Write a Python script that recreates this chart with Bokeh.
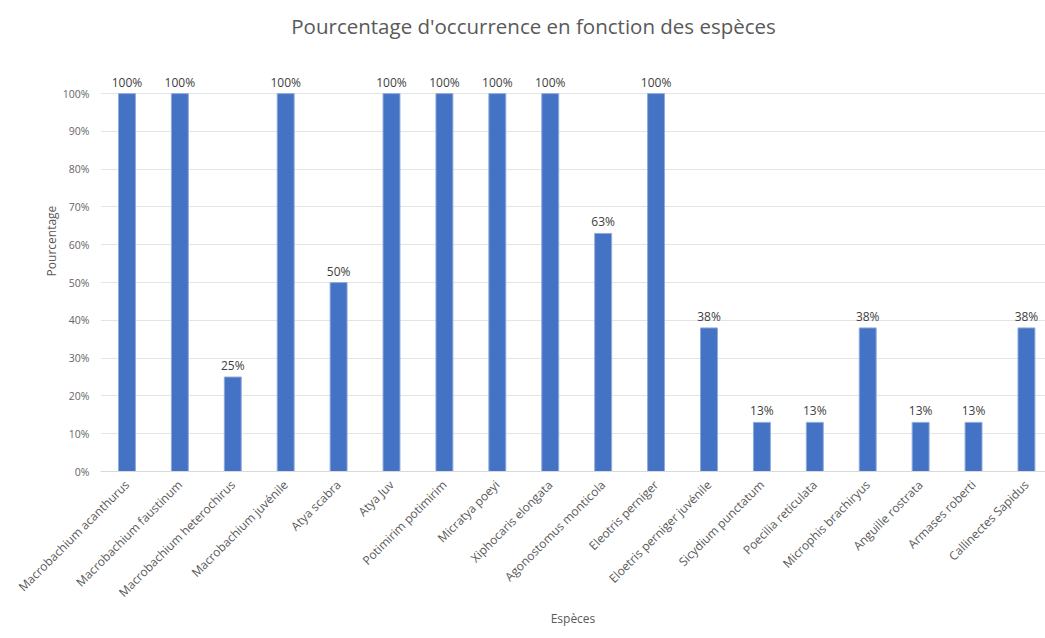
import math
from bokeh.plotting import figure
from bokeh.models import ColumnDataSource, FixedTicker, Range1d
from bokeh.core.properties import value
from bokeh.embed import file_html
from bokeh.resources import INLINE

# Species observed and their occurrence percentage
especes = [
    "Macrobachium acanthurus",
    "Macrobachium faustinum",
    "Macrobachium heterochirus",
    "Macrobachium juvénile",
    "Atya scabra",
    "Atya Juv",
    "Potimirim potimirim",
    "Micratya poeyi",
    "Xiphocaris elongata",
    "Agonostomus monticola",
    "Eleotris perniger",
    "Eloetris perniger juvénile",
    "Sicydium punctatum",
    "Poecilia reticulata",
    "Microphis brachiryus",
    "Anguille rostrata",
    "Armases roberti",
    "Callinectes Sapidus",
]
occurrence = [100, 100, 25, 100, 50, 100, 100, 100, 100, 63, 100, 38, 13, 13, 38, 13, 13, 38]

y_ticks = [0, 10, 20, 30, 40, 50, 60, 70, 80, 90, 100]
y_tick_labels = ["0%", "10%", "20%", "30%", "40%", "50%", "60%", "70%", "80%", "90%", "100%"]

chart_title = "Pourcentage d'occurrence en fonction des espèces"

FONT = "Open Sans"
GREY = "#595959"

positions = list(range(len(especes)))
source = ColumnDataSource(dict(
    x=positions,
    y=occurrence,
    label=[f"{v}%" for v in occurrence],
))

# The plot frame reaches up to the top of the page so the title sits inside it
p = figure(
    width=1045, height=638,
    x_range=Range1d(-0.5, 17.36),
    y_range=Range1d(0, 122),
    output_backend="svg",
    toolbar_location=None,
    min_border_left=100, min_border_right=0,
    min_border_top=10, min_border_bottom=167,
)
p.outline_line_color = None
p.background_fill_color = "white"
p.border_fill_color = "white"

p.vbar(x="x", top="y", width=0.32, source=source,
       fill_color="#4472C4", line_color="#8eaadb", line_width=1)

p.text(x="x", y="y", text="label", source=source,
       text_align="center", text_baseline="bottom", y_offset=-3,
       text_font=value(FONT), text_font_size="12px", text_color="#404040")

title_src = ColumnDataSource(dict(x=[7.685], y=[117.8], text=[chart_title]))
p.text(x="x", y="y", text="text", source=title_src,
       text_align="center", text_baseline="middle",
       text_font=value(FONT), text_font_size="20.5px", text_color=GREY)

# Axes
p.xaxis.ticker = FixedTicker(ticks=positions)
p.xaxis.major_label_overrides = {i: n for i, n in enumerate(especes)}
p.xaxis.major_label_orientation = math.pi / 4
p.xaxis.major_tick_line_color = None
p.xaxis.minor_tick_line_color = None
p.xaxis.axis_line_color = "#d9d9d9"
p.xaxis.major_label_text_font = FONT
p.xaxis.major_label_text_font_size = "12px"
p.xaxis.major_label_text_color = GREY
p.xaxis.axis_label = "Espèces"
p.xaxis.axis_label_text_font = FONT
p.xaxis.axis_label_text_font_size = "12px"
p.xaxis.axis_label_text_font_style = "normal"
p.xaxis.axis_label_text_color = GREY
p.xaxis.axis_label_standoff = 0

p.yaxis.ticker = FixedTicker(ticks=y_ticks)
p.yaxis.major_label_overrides = dict(zip(y_ticks, y_tick_labels))
p.yaxis.major_tick_line_color = None
p.yaxis.minor_tick_line_color = None
p.yaxis.axis_line_color = None
p.yaxis.major_label_text_font = FONT
p.yaxis.major_label_text_font_size = "10.5px"
p.yaxis.major_label_text_color = "#666666"
p.yaxis.axis_label = "Pourcentage"
p.yaxis.axis_label_text_font = FONT
p.yaxis.axis_label_text_font_size = "12px"
p.yaxis.axis_label_text_font_style = "normal"
p.yaxis.axis_label_text_color = GREY
p.yaxis.axis_label_standoff = 0

p.xgrid.grid_line_color = None
p.ygrid.grid_line_color = "#e4e4e4"

open("out.html", "w").write(file_html(p, INLINE))
